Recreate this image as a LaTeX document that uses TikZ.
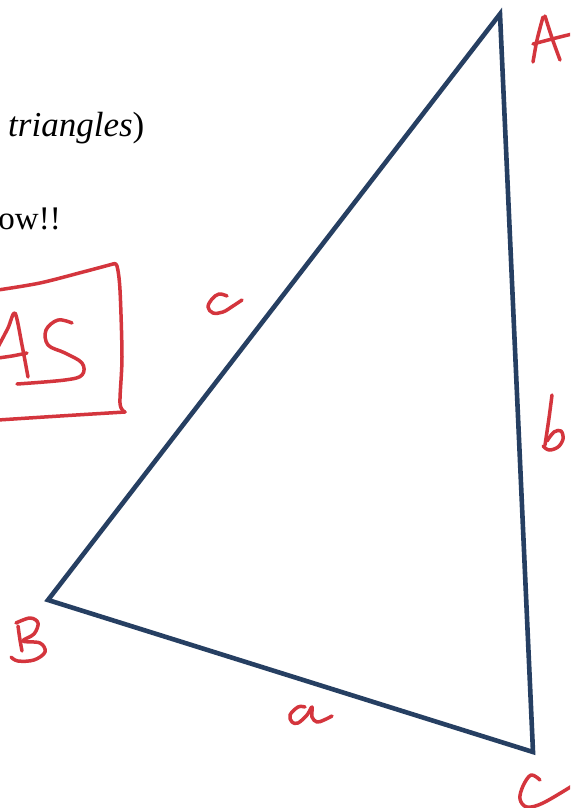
\documentclass[tikz,border=0pt]{standalone}
\usepackage{fontspec}
\setmainfont{Liberation Serif}
\definecolor{navy}{HTML}{263F62}
\definecolor{hred}{HTML}{D4353D}
\begin{document}
\begin{tikzpicture}[x=1pt,y=-1pt,
  tri/.style={draw=navy,line width=4.6pt,line join=miter},
  hand/.style={draw=hred,line width=3.5pt,line cap=round,line join=round},
  txt/.style={inner sep=0pt,anchor=base west}]
\useasboundingbox (0,0) rectangle (570,808);
\clip (0,0) rectangle (570,808);
\fill[white] (0,0) rectangle (570,808);
% text
\node[txt,font=\fontsize{35}{40}\selectfont] (t1) at (8,136) {\itshape triangles\/\upshape)};
\node[txt,anchor=base east,font=\fontsize{33}{38}\selectfont] (t2) at (61,229) {low!!};
% triangle
\coordinate (A) at (500,14);
\coordinate (B) at (48,600);
\coordinate (C) at (533,752);
\draw[tri] (A) -- (B) -- (C) -- cycle;
% label A
\draw[hand] plot[smooth,tension=0.5] coordinates {(533,62) (537,40) (543,17)};
\draw[hand] plot[smooth,tension=0.5] coordinates {(545,16) (552,38) (560,60)};
\draw[hand] plot[smooth,tension=0.5] coordinates {(533,44) (552,39) (572,34)};
% label B
\draw[hand] plot[smooth,tension=0.5] coordinates {(18,626) (20,640) (22,651)};
\draw[hand] plot[smooth,tension=0.6] coordinates {(16,623) (30,618) (38,623) (34,634) (23,641) (40,643) (45,652) (34,660) (18,661) (11,657)};
% label C
\draw[hand] plot[smooth,tension=0.6] coordinates {(540,780) (531,775) (523,786) (520,799) (527,807) (543,803) (572,786)};
% label c
\draw[hand] plot[smooth,tension=0.6] coordinates {(227,296) (219,294) (212,299) (208,307) (213,313) (223,312) (233,306) (242,300)};
% label b
\draw[hand] plot[smooth,tension=0.5] coordinates {(552,395) (549,418) (545,445)};
\draw[hand] plot[smooth,tension=0.6] coordinates {(547,441) (554,432) (561,431) (563,439) (558,447) (549,450) (543,446)};
% label a
\draw[hand] plot[smooth,tension=0.6] coordinates {(305,707) (298,707) (290,715) (292,722) (298,723) (307,715) (312,707) (312,717) (317,722) (324,720) (332,716)};
% boxed AS
\draw[hand] plot[smooth,tension=0.5] coordinates {(-2,290) (40,283) (83,272) (113,264)};
\draw[hand] plot[smooth,tension=0.5] coordinates {(113,264) (117,266) (120,290) (122,357) (120,403) (125,412)};
\draw[hand] plot[smooth,tension=0.5] coordinates {(125,412) (60,416) (-2,420)};
\draw[hand] plot[smooth,tension=0.5] coordinates {(-2,347) (8,328) (15,313) (22,345) (28,377)};
\draw[hand] plot[smooth,tension=0.5] coordinates {(-2,358) (12,356) (27,353)};
\draw[hand] plot[smooth,tension=0.6] coordinates {(72,323) (58,320) (46,330) (48,345) (65,353) (82,363) (82,375) (65,380) (17,384)};
\end{tikzpicture}
\end{document}
